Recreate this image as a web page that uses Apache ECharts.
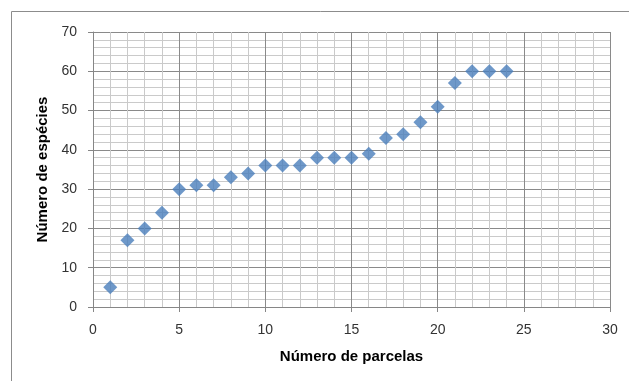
<!DOCTYPE html>
<html><head><meta charset="utf-8">
<script src="https://cdn.jsdelivr.net/npm/echarts@6/dist/echarts.min.js"></script>
<style>html,body{margin:0;padding:0;background:#fff}#c{width:629px;height:381px}</style>
</head><body><div id="c"></div>
<script>
const parcelas = [1,2,3,4,5,6,7,8,9,10,11,12,13,14,15,16,17,18,19,20,21,22,23,24];
const especies = [5,17,20,24,30,31,31,33,34,36,36,36,38,38,38,39,43,44,47,51,57,60,60,60];
const xName = 'Número de parcelas';
const yName = 'Número de espécies';

const chart = echarts.init(document.getElementById('c'), null, {renderer:'canvas'});
const font = 'Liberation Sans, Arial, sans-serif';
chart.setOption({
  animation:false,
  graphic:[{type:'rect',shape:{x:11.5,y:11.5,width:700,height:500},style:{fill:null,stroke:'#8c8c8c',lineWidth:1},z:-10}],
  grid:{left:93,right:19,top:32,bottom:74,containLabel:false},
  xAxis:{type:'value',min:0,max:30,interval:5,
    name:xName,nameLocation:'middle',nameGap:42,
    nameTextStyle:{fontFamily:font,fontWeight:'bold',fontSize:15,color:'#000'},
    axisLine:{lineStyle:{color:'#868686'}},
    axisTick:{show:true,length:5,lineStyle:{color:'#868686'}},
    axisLabel:{fontFamily:font,fontSize:14,color:'#333',margin:16},
    splitLine:{show:true,lineStyle:{color:'#8a8a8a',width:1}},
    minorTick:{show:false,splitNumber:5},
    minorSplitLine:{show:true,lineStyle:{color:'#cacaca',width:1}}
  },
  yAxis:{type:'value',min:0,max:70,interval:10,
    name:yName,nameLocation:'middle',nameGap:41,nameRotate:90,
    nameTextStyle:{fontFamily:font,fontWeight:'bold',fontSize:15,color:'#000'},
    axisLine:{show:true,lineStyle:{color:'#868686'}},
    axisTick:{show:true,length:5,lineStyle:{color:'#868686'}},
    axisLabel:{fontFamily:font,fontSize:14,color:'#333',margin:16},
    splitLine:{show:true,lineStyle:{color:'#8a8a8a',width:1}},
    minorTick:{show:false,splitNumber:5},
    minorSplitLine:{show:true,lineStyle:{color:'#cacaca',width:1}}
  },
  series:[{type:'scatter',symbol:'diamond',symbolSize:14,
    itemStyle:{color:'#4a7ebb'},
    data:parcelas.map((x,i)=>[x,especies[i]])}]
});
</script></body></html>
